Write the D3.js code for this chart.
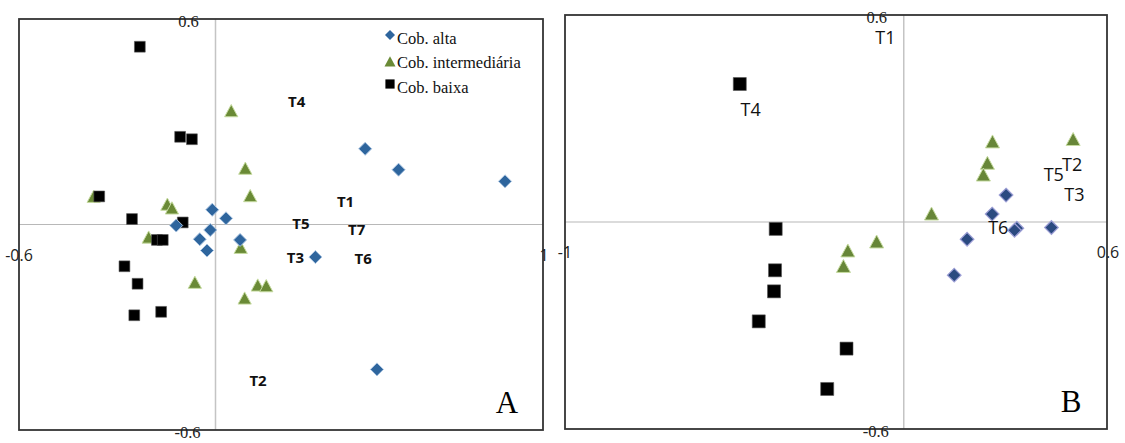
<!DOCTYPE html>
<html>
<head>
<meta charset="utf-8">
<script src="https://cdn.jsdelivr.net/npm/d3@7"></script>
<style>
  html, body { margin: 0; padding: 0; background: #fff; }
  svg { display: block; }
</style>
</head>
<body>
<svg id="chart" width="1125" height="443"></svg>
<script>
// ---- Panel A: sample scores by cover class ----
const altaA = [[0.457,0.221],[0.559,0.160],[0.884,0.126],[-0.010,0.043],[0.032,0.018],[-0.120,-0.003],
               [-0.016,-0.016],[-0.048,-0.043],[0.075,-0.045],[-0.026,-0.076],[0.305,-0.095],[0.493,-0.423]];
const intermediariaA = [[0.048,0.330],[0.091,0.162],[0.106,0.082],[-0.372,0.080],[-0.147,0.057],[-0.133,0.046],
                        [-0.204,-0.039],[0.077,-0.069],[-0.063,-0.171],[0.129,-0.179],[0.155,-0.181],[0.089,-0.217]];
const baixaA = [[-0.231,0.519],[-0.108,0.256],[-0.072,0.249],[-0.355,0.082],[-0.255,0.016],[-0.100,0.006],
                [-0.179,-0.045],[-0.161,-0.045],[-0.278,-0.122],[-0.238,-0.173],[-0.166,-0.255],[-0.248,-0.265]];
const labelsA = [["T4",0.248,0.361],["T1",0.397,0.069],["T5",0.261,0.003],["T7",0.431,-0.014],
                 ["T3",0.244,-0.094],["T6",0.451,-0.099],["T2",0.130,-0.454]];

// ---- Panel B ----
const altaB = [[0.302,0.078],[0.261,0.023],[0.334,-0.018],[0.327,-0.024],[0.436,-0.016],[0.187,-0.050],[0.149,-0.154]];
const intermediariaB = [[0.262,0.231],[0.500,0.238],[0.247,0.169],[0.235,0.135],[0.082,0.022],
                        [-0.080,-0.059],[-0.165,-0.085],[-0.178,-0.130]];
const baixaB = [[-0.484,0.400],[-0.378,-0.020],[-0.380,-0.140],[-0.383,-0.201],[-0.428,-0.288],[-0.169,-0.367],[-0.226,-0.484]];
const labelsB = [["T1",-0.054,0.535],["T4",-0.452,0.327],["T2",0.497,0.169],["T5",0.443,0.138],
                 ["T3",0.504,0.081],["T6",0.279,-0.014]];

// axis ranges and end labels
const xDomainA = [-0.6, 1], yDomainA = [-0.6, 0.6];
const xDomainB = [-1, 0.6], yDomainB = [-0.6, 0.6];
const xEndLabelsA = ["-0.6", "1"], yEndLabelsA = ["0.6", "-0.6"];
const xEndLabelsB = ["-1", "0.6"], yEndLabelsB = ["0.6", "-0.6"];
const legendNames = ["Cob. alta", "Cob. intermediária", "Cob. baixa"];

const svg = d3.select("#chart");

// marker path builders (r = half size)
const shapes = {
  diamond: r => `M0,${-r}L${r},0L0,${r}L${-r},0Z`,
  triangle: r => `M0,${-r*1.05}L${r},${r*0.8}L${-r},${r*0.8}Z`,
  square: r => `M${-r},${-r}H${r}V${r}H${-r}Z`
};

function drawPanel(cfg) {
  const x = d3.scaleLinear().domain(cfg.xDomain).range([cfg.left, cfg.right]);
  const y = d3.scaleLinear().domain(cfg.yDomain).range([cfg.bottom, cfg.top]);
  const g = svg.append("g");

  // zero lines
  g.append("line").attr("x1", x(0)).attr("x2", x(0)).attr("y1", cfg.top).attr("y2", cfg.bottom)
    .attr("stroke", "#c4c4c4").attr("stroke-width", 1.5);
  g.append("line").attr("x1", cfg.left).attr("x2", cfg.right).attr("y1", y(0)).attr("y2", y(0))
    .attr("stroke", "#b8b8b8").attr("stroke-width", 1.2);

  // series
  cfg.series.forEach(s => {
    g.append("g").selectAll("path").data(s.data).join("path")
      .attr("transform", d => `translate(${x(d[0])},${y(d[1])})`)
      .attr("d", shapes[s.shape](s.r))
      .attr("fill", s.fill).attr("stroke", s.stroke).attr("stroke-width", s.sw);
  });

  // treatment labels
  g.append("g").selectAll("text").data(cfg.labels).join("text")
    .attr("x", d => x(d[1])).attr("y", d => y(d[2]))
    .attr("text-anchor", "middle").attr("dominant-baseline", "central")
    .attr("font-family", "'Open Sans', sans-serif")
    .attr("font-size", cfg.labelSize).attr("font-weight", cfg.labelWeight)
    .attr("fill", "#111").text(d => d[0]);

  // frame
  g.append("rect").attr("x", cfg.left).attr("y", cfg.top)
    .attr("width", cfg.right - cfg.left).attr("height", cfg.bottom - cfg.top)
    .attr("fill", "none").attr("stroke", "#333").attr("stroke-width", 1.8);

  // end labels of the axes
  const tl = g.append("g").attr("fill", "#222");
  tl.append("text").attr("x", x(0) - 27).attr("y", cfg.top + 8)
    .attr("text-anchor", "middle").attr("font-family", "'Liberation Serif', serif")
    .attr("font-size", 16.5).text(cfg.yEnd[0]);
  tl.append("text").attr("x", x(0) - 28).attr("y", cfg.bottom + 8)
    .attr("text-anchor", "middle").attr("font-family", "'Liberation Serif', serif")
    .attr("font-size", 16.5).text(cfg.yEnd[1]);
  tl.append("text").attr("x", cfg.left).attr("y", y(0) + 36)
    .attr("text-anchor", "middle").attr("font-family", "'Open Sans', sans-serif")
    .attr("font-size", 16).text(cfg.xEnd[0]);
  tl.append("text").attr("x", cfg.right + 1).attr("y", y(0) + 36)
    .attr("text-anchor", "middle").attr("font-family", "'Open Sans', sans-serif")
    .attr("font-size", 16).text(cfg.xEnd[1]);

  // panel letter
  g.append("text").attr("x", cfg.right - 36).attr("y", cfg.bottom - 17)
    .attr("text-anchor", "middle").attr("font-family", "'Liberation Serif', serif")
    .attr("font-size", 31).attr("fill", "#000").text(cfg.letter);

  return g;
}

const gA = drawPanel({
  left: 19, right: 543, top: 19, bottom: 430,
  xDomain: xDomainA, yDomain: yDomainA,
  xEnd: xEndLabelsA, yEnd: yEndLabelsA, letter: "A",
  labels: labelsA, labelSize: 15, labelWeight: 700,
  series: [
    { data: intermediariaA, shape: "triangle", r: 6.6, fill: "#6a8a36", stroke: "#c6dba0", sw: 1 },
    { data: baixaA, shape: "square", r: 5.4, fill: "#000", stroke: "#555", sw: 0.6 },
    { data: altaA, shape: "diamond", r: 6.5, fill: "#2e659d", stroke: "#a9c3e0", sw: 1 }
  ]
});

drawPanel({
  left: 565, right: 1107, top: 15, bottom: 429,
  xDomain: xDomainB, yDomain: yDomainB,
  xEnd: xEndLabelsB, yEnd: yEndLabelsB, letter: "B",
  labels: labelsB, labelSize: 18, labelWeight: 400,
  series: [
    { data: baixaB, shape: "square", r: 6.5, fill: "#000", stroke: "#555", sw: 0.6 },
    { data: intermediariaB, shape: "triangle", r: 7, fill: "#678638", stroke: "#c6dba0", sw: 1 },
    { data: altaB, shape: "diamond", r: 6.8, fill: "#2b4a80", stroke: "#9d9fd6", sw: 1.2 }
  ]
});

// legend for panel A
const legendShapes = [
  { shape: "diamond", r: 5, fill: "#2e659d", my: 35, ty: 44 },
  { shape: "triangle", r: 5.5, fill: "#6a8a36", my: 62, ty: 68 },
  { shape: "square", r: 4.6, fill: "#000", my: 84, ty: 93 }
];
const lg = gA.append("g");
lg.selectAll("path").data(legendShapes).join("path")
  .attr("transform", d => `translate(390,${d.my})`)
  .attr("d", d => shapes[d.shape](d.r)).attr("fill", d => d.fill);
lg.selectAll("text").data(legendShapes).join("text")
  .attr("x", 397).attr("y", d => d.ty)
  .attr("font-family", "'Liberation Serif', serif").attr("font-size", 16.5)
  .attr("fill", "#111").text((d, i) => legendNames[i]);
</script>
</body>
</html>
